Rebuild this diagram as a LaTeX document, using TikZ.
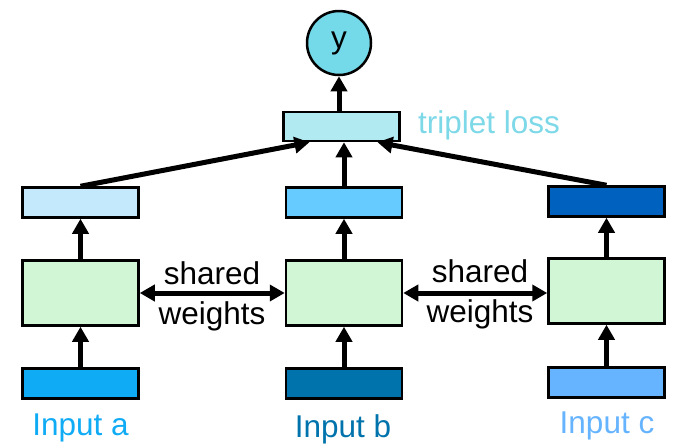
\documentclass[tikz,border=0pt]{standalone}
\usepackage{fontspec}
\setmainfont{Liberation Sans}
\usetikzlibrary{arrows.meta}
\definecolor{topA}{HTML}{C5E9FC}
\definecolor{topB}{HTML}{66CCFF}
\definecolor{topC}{HTML}{0062BE}
\definecolor{netgreen}{HTML}{D0F6D6}
\definecolor{inA}{HTML}{10ABF5}
\definecolor{inB}{HTML}{0073AC}
\definecolor{inC}{HTML}{66B4FF}
\definecolor{tripbox}{HTML}{B2EAF2}
\definecolor{tripcirc}{HTML}{74D9E8}
\definecolor{triptext}{HTML}{7DD8E8}
\tikzset{
  box/.style={draw=black, line width=2.5pt, minimum width=116pt, inner sep=0pt},
  thinbox/.style={box, minimum height=30pt},
  netbox/.style={box, minimum height=65pt, fill=netgreen},
  tip/.tip={Triangle[length=15pt,width=16pt]},
  flow/.style={line width=5pt, -tip},
  both/.style={line width=5pt, tip-tip},
  lbl/.style={font=\fontsize{31.5}{36}\selectfont, inner sep=0pt},
}
\begin{document}
\begin{tikzpicture}[x=1pt,y=-1pt]
\useasboundingbox (0,0) rectangle (673,445);
% input layer
\node[thinbox, fill=inA] (ia) at (80.5,383.5) {};
\node[thinbox, fill=inB] (ib) at (344,383.5) {};
\node[thinbox, fill=inC] (ic) at (606.5,382.5) {};
% shared networks
\node[netbox] (na) at (80.5,293) {};
\node[netbox] (nb) at (344,293) {};
\node[netbox] (nc) at (606.5,291) {};
% embeddings
\node[thinbox, fill=topA] (ea) at (80.5,202.5) {};
\node[thinbox, fill=topB] (eb) at (344,202.5) {};
\node[thinbox, fill=topC] (ec) at (606.5,201.5) {};
% triplet loss and output
\node[box, minimum height=29pt, fill=tripbox] (trip) at (341.5,126.5) {};
\node[draw=black, line width=2.5pt, circle, minimum size=64pt, inner sep=0pt, fill=tripcirc, lbl] (y) at (339,43) {y};
\coordinate (tl) at ([xshift=-32pt]trip.south);
\coordinate (tr) at ([xshift=36pt]trip.south);
% labels
\node[lbl, text=inA] (la) at (80.5,428) {Input a};
\node[lbl, text=inB] (lb) at (343,429) {Input b};
\node[lbl, text=inC] (lc) at (607,426) {Input c};
\node[lbl, text=triptext, anchor=west] (lt) at (418,125) {triplet loss};
\node[lbl] (s1) at (212,273) {shared};
\node[lbl] (w1) at (212,316) {weights};
\node[lbl] (s2) at (480,271) {shared};
\node[lbl] (w2) at (480,314) {weights};
% connectors
\draw[flow] (ia) -- (na);
\draw[flow] (ib) -- (nb);
\draw[flow] (ic) -- (nc);
\draw[flow] (na) -- (ea);
\draw[flow] (nb) -- (eb);
\draw[flow] (nc) -- (ec);
\draw[flow] (ea.north) -- (tl);
\draw[flow] (eb.north) -- (eb.north |- trip.south);
\draw[flow] (ec.north) -- (tr);
\draw[flow] (trip.north -| y.south) -- (y.south);
\draw[both] (na.east) -- (nb.west);
\draw[both] (nb.east) -- (nc.west |- nb.east);
\end{tikzpicture}
\end{document}
